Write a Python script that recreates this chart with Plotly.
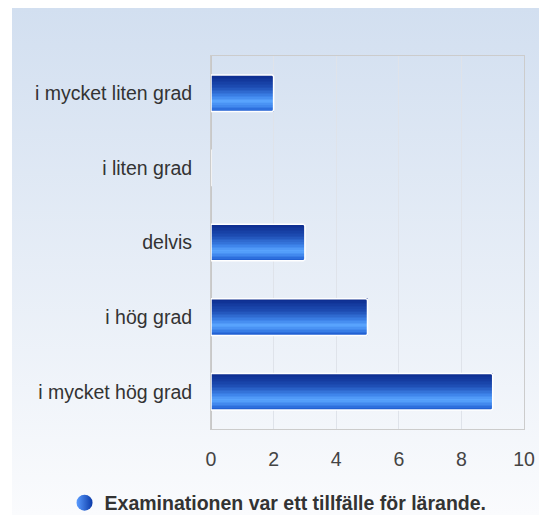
import base64
import plotly.graph_objects as go

categories = ["i mycket liten grad", "i liten grad", "delvis", "i hög grad", "i mycket hög grad"]
values = [2, 0, 3, 5, 9]
series_name = "Examinationen var ett tillfälle för lärande."
x_ticks = [0, 2, 4, 6, 8, 10]

# vertical gradient of the bars (top -> bottom)
stops = [(0.0, (10, 40, 138)), (0.35, (30, 78, 180)), (0.6, (62, 132, 234)),
         (0.74, (90, 166, 255)), (0.88, (60, 130, 234)), (1.0, (28, 90, 206))]


def col_at(f):
    for (f0, c0), (f1, c1) in zip(stops[:-1], stops[1:]):
        if f0 <= f <= f1:
            t = (f - f0) / (f1 - f0)
            c = [round(a + (b - a) * t) for a, b in zip(c0, c1)]
            return "rgb(%d,%d,%d)" % tuple(c)
    return "rgb(%d,%d,%d)" % stops[-1][1]


fig = go.Figure()
W = 0.49
N = 24
for i in range(N):
    f = (i + 0.5) / N
    fig.add_trace(go.Bar(
        x=values, y=categories, orientation="h",
        width=W / N * 1.08, offset=-W / 2 + i * W / N,
        marker=dict(color=col_at(f), line=dict(width=0)),
        showlegend=False, hoverinfo="skip"))

# white outline
fig.add_trace(go.Bar(
    x=values, y=categories, orientation="h", width=W,
    marker=dict(color="rgba(0,0,0,0)", line=dict(color="white", width=1.5),
                cornerradius=2),
    showlegend=False, hoverinfo="skip"))

# legend entry
fig.add_trace(go.Scatter(
    x=[None], y=[None], mode="markers", name=series_name,
    marker=dict(symbol="circle", size=20, color="#5a9cff",
                gradient=dict(type="horizontal", color="#0b3aa8"),
                line=dict(width=0))))

svg = ('<svg xmlns="http://www.w3.org/2000/svg" width="100" height="100" preserveAspectRatio="none">'
       '<defs><linearGradient id="g" x1="0" y1="0" x2="0" y2="1">'
       '<stop offset="0" stop-color="#d2dff0"/><stop offset="1" stop-color="#fafbfd"/>'
       '</linearGradient></defs><rect width="100" height="100" fill="url(#g)"/></svg>')
src = "data:image/svg+xml;base64," + base64.b64encode(svg.encode()).decode()

FW, FH = 539, 507
L, R, T, B = 203, 20, 48, 86
PW, PH = FW - L - R, FH - T - B
x0 = (2 - L) / PW
x1 = (FW - L) / PW
y_top = 1 + T / PH
y_bot = -B / PH

fig.update_layout(
    width=FW, height=FH,
    margin=dict(l=L, r=R, t=T, b=B),
    paper_bgcolor="white", plot_bgcolor="rgba(0,0,0,0)",
    barmode="overlay",
    font=dict(family="Liberation Sans, Arial, sans-serif", size=19.5, color="#333333"),
    images=[dict(source=src, xref="paper", yref="paper", x=x0, y=y_top,
                 sizex=x1 - x0, sizey=y_top - y_bot, sizing="stretch",
                 xanchor="left", yanchor="top", layer="below")],
    xaxis=dict(range=[0, 10], tickvals=x_ticks, showgrid=True, gridcolor="#dfe3ea",
               gridwidth=1, showline=True, linecolor="#cccccc", linewidth=1, mirror=True,
               zeroline=True, zerolinecolor="#c8c8c8", zerolinewidth=2,
               ticks="", ticklabelstandoff=13, tickfont=dict(size=19.5, color="#444444"),
               fixedrange=True),
    yaxis=dict(type="category", categoryorder="array", categoryarray=categories,
               autorange="reversed", showgrid=False, showline=True, linecolor="#cccccc",
               linewidth=1, mirror=True, ticks="", ticklabelstandoff=14,
               tickfont=dict(size=19.5, color="#333333"), fixedrange=True),
    legend=dict(orientation="h", xref="container", yref="container", x=0.501, y=0.0237,
                xanchor="center", yanchor="middle", bgcolor="rgba(0,0,0,0)",
                font=dict(size=19.5, color="#333333", weight="bold"),
                itemwidth=30),
    showlegend=True,
)

fig.write_html("out.html")
